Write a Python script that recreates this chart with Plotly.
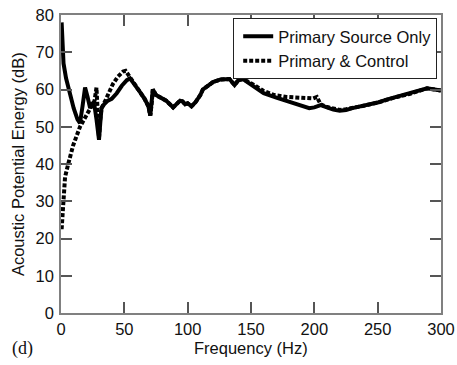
import plotly.graph_objects as go

# Primary source only
freq_primary = [0.5, 1, 2, 4, 7, 10, 13, 15, 17, 19, 21, 23, 25, 26.5, 28, 29, 30, 31, 32, 34,
                37, 40, 44, 48, 52, 54.5, 58, 62, 66, 69, 70.5, 71.5, 72.5, 75, 78, 83, 88.5,
                91, 94, 96, 98, 100, 103, 106, 110, 112, 116, 120, 126, 133, 137, 140, 143.7,
                147, 152, 160, 170, 180, 190, 196, 200, 205, 210, 215, 220, 225, 230, 240,
                250, 257, 265, 275, 282, 289, 295, 300]
energy_primary = [78, 72, 67, 63, 58.5, 55, 52, 51, 55.5, 60.5, 58, 55, 56.5, 55.5, 52, 48, 46.5, 51, 55, 56,
                  57, 57.5, 59, 61, 62.5, 63, 61.5, 59.5, 57.5, 55.5, 53, 56, 60, 58.5, 58, 57, 55.2,
                  56, 57, 56.8, 56, 56.3, 55.5, 56.5, 58.5, 60, 61, 62, 62.7, 62.8, 61.2, 62.5, 62.8,
                  62, 60.8, 59, 57.8, 56.7, 55.8, 55, 55.2, 55.8, 55.2, 54.6, 54.3, 54.5, 55, 55.7,
                  56.5, 57.3, 58, 58.8, 59.5, 60.3, 60, 59.7]

# Primary & control
freq_control = [0.5, 1, 1.8, 3.2, 5.7, 9.6, 15, 20, 24, 26.5, 28, 29, 30, 31, 32, 35, 38, 41, 45,
                49, 51, 53, 57, 62, 66, 69, 70.5, 71.5, 72.5, 75, 78, 83, 88.5, 91, 94, 96, 98,
                100, 103, 106, 110, 112, 116, 120, 126, 133, 137, 140, 143.7, 147, 152, 160,
                167.5, 178, 190, 199, 202, 205, 210, 215, 220, 225, 230, 240, 250, 257, 265,
                275, 282, 289, 295, 300]
energy_control = [22.5, 26, 30, 36.5, 40, 45, 50, 53, 55, 57, 60.5, 52, 47, 52, 55, 57, 59.5, 61.5, 63.5,
                  64.8, 65, 64, 62, 59.5, 57.5, 55.5, 53, 56, 60, 58.5, 58, 57, 55.2, 56, 57, 56.8,
                  56, 56.3, 55.5, 56.5, 58.5, 60, 61, 62, 62.7, 62.8, 61.2, 62.5, 62.8, 62.3, 61.3,
                  59.6, 58.6, 58, 57.7, 57.6, 58, 56, 55.3, 54.8, 54.5, 54.7, 55, 55.7, 56.5, 57.3,
                  58, 58.8, 59.5, 60.3, 60, 59.7]

x_ticks = [0, 50, 100, 150, 200, 250, 300]
y_ticks = [0, 10, 20, 30, 40, 50, 60, 70, 80]

FONT = "Liberation Sans, Arial"
FS = 16.5

fig = go.Figure()
fig.add_trace(go.Scatter(x=freq_primary, y=energy_primary, mode="lines",
                         name="Primary Source Only",
                         line=dict(color="black", width=4)))
fig.add_trace(go.Scatter(x=freq_control, y=energy_control, mode="lines",
                         name="Primary & Control",
                         line=dict(color="black", width=4, dash="4px,2px")))

axis_common = dict(showgrid=False, zeroline=False, showline=True, linecolor="#808080",
                   linewidth=1.5, mirror="ticks", ticks="inside", ticklen=11,
                   tickcolor="#555555", tickwidth=1.5, automargin=False,
                   ticklabeloverflow="allow",
                   tickfont=dict(family=FONT, size=FS, color="#111"))

fig.update_xaxes(range=[0, 300], tickvals=x_ticks, **axis_common)
fig.update_yaxes(range=[0, 80], tickvals=y_ticks, ticklabelstandoff=2, **axis_common)

fig.update_layout(
    width=457, height=365,
    margin=dict(l=61, r=16, t=15, b=52, autoexpand=False),
    plot_bgcolor="white", paper_bgcolor="white",
    legend=dict(x=0.99, y=0.99, xanchor="right", yanchor="top",
                bgcolor="white", bordercolor="#222", borderwidth=1,
                font=dict(family=FONT, size=FS, color="#111"),
                tracegroupgap=0, itemwidth=30, indentation=4),
    showlegend=True,
)
fig.add_annotation(text="Frequency (Hz)", xref="paper", yref="paper", x=0.5, y=-0.118,
                   xanchor="center", yanchor="middle", showarrow=False,
                   font=dict(family=FONT, size=FS, color="#111"))
fig.add_annotation(text="Acoustic Potential Energy (dB)", xref="paper", yref="paper",
                   x=-0.113, y=0.5, xanchor="center", yanchor="middle", showarrow=False,
                   textangle=-90, font=dict(family=FONT, size=FS, color="#111"))
fig.add_annotation(text="(d)", xref="paper", yref="paper", x=-0.135, y=-0.118,
                   xanchor="left", yanchor="middle", showarrow=False,
                   font=dict(family="Liberation Serif, Times New Roman", size=18, color="#111"))

# remove the browser's default 8px page margin so the figure sits at the window origin
fig.write_html("out.html", config={"displayModeBar": False},
               post_script="document.body.style.margin='0';document.body.style.overflow='hidden';")
